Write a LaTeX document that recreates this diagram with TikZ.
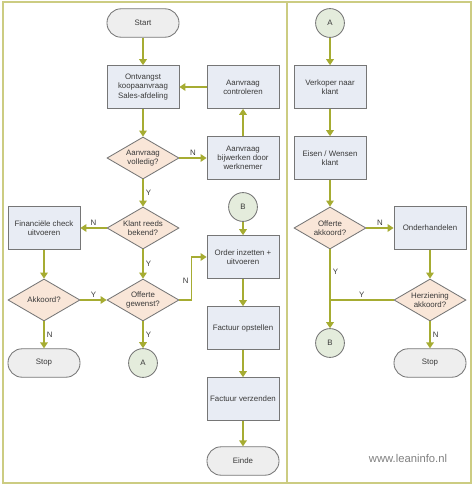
\documentclass[tikz,border=0pt]{standalone}
\usepackage{fontspec}
\setmainfont{Liberation Sans}
\usetikzlibrary{shapes.geometric, arrows.meta}

\definecolor{olijf}{RGB}{166,172,50}
\definecolor{kader}{RGB}{204,204,130}
\definecolor{rand}{RGB}{118,118,118}
\definecolor{boxvul}{RGB}{232,236,244}
\definecolor{ruitvul}{RGB}{249,230,216}
\definecolor{eindvul}{RGB}{238,238,238}
\definecolor{rondvul}{RGB}{228,236,220}
\definecolor{tekst}{RGB}{58,58,58}

\begin{document}
\begin{tikzpicture}[x=0.025cm, y=-0.025cm,
        every node/.style={font=\fontsize{5.6}{6.6}\selectfont, text=tekst},
        stap/.style={draw=rand, fill=boxvul, line width=0.6pt, minimum width=1.8cm, minimum height=1.07cm, align=center, inner sep=1pt},
        keuze/.style={draw=rand, fill=ruitvul, line width=0.6pt, diamond, shape aspect=1.7, minimum width=1.8cm, minimum height=1.05cm, align=center, inner sep=0pt},
        eind/.style={draw=rand, fill=eindvul, line width=0.6pt, rounded corners=0.35cm, minimum width=1.8cm, minimum height=0.71cm},
        link/.style={draw=rand, fill=rondvul, line width=0.6pt, circle, minimum size=0.72cm, inner sep=0pt},
        pijl/.style={draw=olijf, line width=1pt, -{Triangle[length=1.5mm, width=1.9mm]}},
        lijn/.style={draw=olijf, line width=1pt},
        jn/.style={inner sep=1.5pt}]

        \useasboundingbox (0,0) rectangle (474,486);
        \draw[kader, line width=1.8pt] (3,2) rectangle (471,483);
        \draw[kader, line width=1.2pt] (287,2) -- (287,483);

        \node[eind] (start) at (143,23) {Start};
        \node[stap] (ontvangst) at (143,87) {Ontvangst\\koopaanvraag\\Sales-afdeling};
        \node[stap] (controle) at (243,87) {Aanvraag\\controleren};
        \node[keuze] (volledig) at (143,158) {Aanvraag\\volledig?};
        \node[stap] (bijwerken) at (243,158) {Aanvraag\\bijwerken door\\werknemer};
        \node[keuze] (bekend) at (143,228) {Klant reeds\\bekend?};
        \node[stap] (financieel) at (44,228) {Financiële check\\uitvoeren};
        \node[keuze] (akkoord) at (44,300) {Akkoord?};
        \node[keuze] (gewenst) at (143,300) {Offerte\\gewenst?};
        \node[eind] (stopl) at (44,363) {Stop};
        \node[link] (al) at (143,363) {A};
        \node[link] (bl) at (243,207) {B};
        \node[stap] (order) at (243,257) {Order inzetten +\\uitvoeren};
        \node[stap] (opstellen) at (243,328) {Factuur opstellen};
        \node[stap] (verzenden) at (243,399) {Factuur verzenden};
        \node[eind] (einde) at (243,461) {Einde};

        \node[link] (ar) at (330,23) {A};
        \node[stap] (verkoper) at (330,87) {Verkoper naar\\klant};
        \node[stap] (eisen) at (330,158) {Eisen / Wensen\\klant};
        \node[keuze] (offakk) at (330,228) {Offerte\\akkoord?};
        \node[stap] (onderh) at (430,228) {Onderhandelen};
        \node[keuze] (herz) at (430,300) {Herziening\\akkoord?};
        \node[link] (br) at (330,343) {B};
        \node[eind] (stopr) at (430,363) {Stop};
        \coordinate (samen) at (330,300);

        \draw[pijl] (start) -- (ontvangst);
        \draw[pijl] (controle) -- (ontvangst);
        \draw[pijl] (ontvangst) -- (volledig);
        \draw[pijl] (volledig) -- node[above, jn] {N} (bijwerken);
        \draw[pijl] (bijwerken) -- (controle);
        \draw[pijl] (volledig) -- node[right, jn] {Y} (bekend);
        \draw[pijl] (bekend) -- node[above, jn] {N} (financieel);
        \draw[pijl] (bekend) -- node[right, jn] {Y} (gewenst);
        \draw[pijl] (financieel) -- (akkoord);
        \draw[pijl] (akkoord) -- node[above, jn] {Y} (gewenst);
        \draw[pijl] (akkoord) -- node[right, jn] {N} (stopl);
        \draw[pijl] (gewenst) -- node[right, jn] {Y} (al);
        \draw[pijl] (gewenst.east) -- ++(12,0) |- node[pos=0.22, left, jn] {N} (order.west);
        \draw[pijl] (bl) -- (order);
        \draw[pijl] (order) -- (opstellen);
        \draw[pijl] (opstellen) -- (verzenden);
        \draw[pijl] (verzenden) -- (einde);

        \draw[pijl] (ar) -- (verkoper);
        \draw[pijl] (verkoper) -- (eisen);
        \draw[pijl] (eisen) -- (offakk);
        \draw[pijl] (offakk) -- node[above, jn] {N} (onderh);
        \draw[pijl] (onderh) -- (herz);
        \draw[pijl] (offakk) -- node[pos=0.28, right, jn] {Y} (br);
        \draw[lijn] (herz) -- node[above, jn] {Y} (samen);
        \draw[pijl] (herz) -- node[right, jn] {N} (stopr);

        \node[font=\fontsize{8}{9}\selectfont, text=gray] (site) at (408,458) {www.leaninfo.nl};
    \end{tikzpicture}
\end{document}
